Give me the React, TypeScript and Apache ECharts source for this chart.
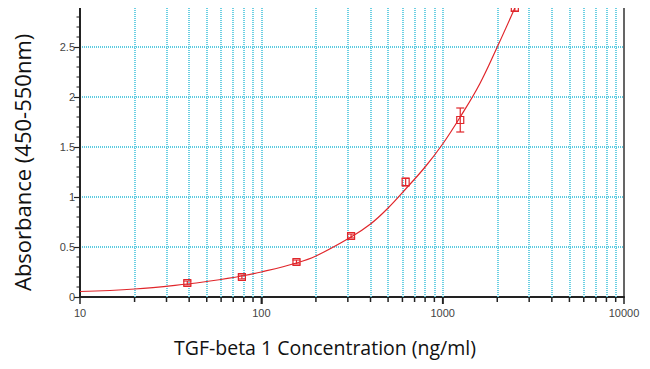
import React, { useEffect, useRef } from "react";
import * as echarts from "echarts";

const concentrations = [39.06, 78.13, 156.25, 312.5, 625, 1250, 2500];
const absorbance = [0.14, 0.2, 0.35, 0.61, 1.15, 1.77, 2.89];
const errors = [0.02, 0.02, 0.02, 0.02, 0.04, 0.12, 0.03];

const curveX = [10, 20, 39.06, 50, 78.13, 100, 156.25, 200, 312.5, 400, 500, 625, 800, 1000, 1250, 1600, 2000, 2500];
const curveY = [0.055, 0.08, 0.13, 0.155, 0.21, 0.25, 0.34, 0.41, 0.6, 0.73, 0.89, 1.08, 1.3, 1.53, 1.8, 2.13, 2.5, 2.89];

const xLabels = ["10", "100", "1000", "10000"];
const xGridValues = [20, 30, 40, 50, 60, 70, 80, 90, 100, 200, 300, 400, 500, 600, 700, 800, 900, 1000, 2000, 3000, 4000, 5000, 6000, 7000, 8000, 9000];
const yMinorTicks = [0.1, 0.2, 0.3, 0.4, 0.6, 0.7, 0.8, 0.9, 1.1, 1.2, 1.3, 1.4, 1.6, 1.7, 1.8, 1.9, 2.1, 2.2, 2.3, 2.4, 2.6, 2.7, 2.8];

const X_MIN = 10;
const X_MAX = 10000;
const Y_MIN = 0;
const Y_MAX = 2.9;
const GRID_COLOR = "#5ccbe0";
const RED = "#e0262b";

export default function App() {
  const ref = useRef<HTMLDivElement>(null);
  useEffect(() => {
    if (!ref.current) return;
    const chart = echarts.init(ref.current, null, { renderer: "svg" });
    chart.setOption({
      animation: false,
      grid: {
        left: 80,
        right: 26,
        top: 7,
        bottom: 72,
        show: true,
        borderColor: "#333",
        borderWidth: 1.5,
      },
      xAxis: {
        type: "log",
        logBase: 10,
        min: X_MIN,
        max: X_MAX,
        axisLine: { lineStyle: { color: "#222", width: 2 } },
        axisTick: { show: true, length: 7, lineStyle: { color: "#222", width: 1.5 } },
        axisLabel: {
          color: "#444",
          fontSize: 11,
          fontFamily: "Liberation Sans",
          margin: 10,
          formatter: (v: number) => xLabels.find((l) => Math.abs(Number(l) - v) < 1e-6) ?? "",
        },
        splitLine: { show: false },
        minorTick: { show: false },
      },
      yAxis: {
        type: "value",
        min: Y_MIN,
        max: Y_MAX,
        interval: 0.5,
        axisLine: { show: true, lineStyle: { color: "#222", width: 2 } },
        axisTick: { show: true, length: 6, lineStyle: { color: "#222", width: 1.2 } },
        axisLabel: {
          color: "#444",
          fontSize: 11,
          fontFamily: "Liberation Sans",
          margin: 5,
          showMaxLabel: false,
          formatter: (v: number) => (Math.abs(v - 2.9) < 1e-6 ? "" : String(v)),
        },
        splitLine: { show: true, lineStyle: { color: GRID_COLOR, type: [1, 1], width: 1.8 } },
      },
      graphic: [
        {
          type: "text",
          left: 174,
          top: 337,
          style: {
            text: "TGF-beta 1 Concentration (ng/ml)",
            fontSize: 19.5,
            fontFamily: "Open Sans",
            fill: "#111",
          },
        },
        {
          type: "text",
          x: 11,
          y: 291,
          rotation: Math.PI / 2,
          style: {
            text: "Absorbance (450-550nm)",
            fontSize: 22,
            fontFamily: "Open Sans",
            fill: "#111",
          },
        },
      ],
      series: [
        {
          type: "custom",
          z: 1,
          silent: true,
          clip: false,
          data: xGridValues.map((v) => [v]),
          renderItem: (params: any, api: any) => {
            const v = api.value(0);
            const bot = api.coord([v, Y_MIN]);
            const major = v === 100 || v === 1000;
            return {
              type: "line",
              shape: { x1: bot[0], y1: bot[1], x2: bot[0], y2: bot[1] + (major ? 7 : 5) },
              style: { stroke: "#222", lineWidth: 1.5 },
            };
          },
        },
        {
          type: "custom",
          z: 1,
          silent: true,
          clip: false,
          data: yMinorTicks.map((v) => [X_MIN, v]),
          renderItem: (params: any, api: any) => {
            const p = api.coord([api.value(0), api.value(1)]);
            return {
              type: "line",
              shape: { x1: p[0] - 3.5, y1: p[1], x2: p[0], y2: p[1] },
              style: { stroke: "#222", lineWidth: 1 },
            };
          },
        },
        {
          type: "line",
          z: 3,
          smooth: 0.4,
          showSymbol: false,
          silent: true,
          data: curveX.map((x, i) => [x, curveY[i]]),
          lineStyle: { color: RED, width: 1.2 },
          markLine: {
            silent: true,
            symbol: "none",
            z: 1,
            label: { show: false },
            lineStyle: { color: GRID_COLOR, type: [1, 1], width: 1.8, opacity: 1 },
            emphasis: { disabled: true },
            data: xGridValues.map((v) => ({ xAxis: v })),
          },
        },
        {
          type: "custom",
          z: 4,
          silent: true,
          clip: false,
          data: concentrations.map((x, i) => [x, absorbance[i], errors[i]]),
          renderItem: (params: any, api: any) => {
            const x = api.value(0);
            const y = api.value(1);
            const e = api.value(2);
            const c = api.coord([x, y]);
            const hi = api.coord([x, y + e]);
            const lo = api.coord([x, y - e]);
            const cap = 4;
            const s = 3.5;
            return {
              type: "group",
              children: [
                {
                  type: "line",
                  shape: { x1: c[0], y1: hi[1], x2: c[0], y2: lo[1] },
                  style: { stroke: RED, lineWidth: 1.2 },
                },
                {
                  type: "line",
                  shape: { x1: c[0] - cap, y1: hi[1], x2: c[0] + cap, y2: hi[1] },
                  style: { stroke: RED, lineWidth: 1.2 },
                },
                {
                  type: "line",
                  shape: { x1: c[0] - cap, y1: lo[1], x2: c[0] + cap, y2: lo[1] },
                  style: { stroke: RED, lineWidth: 1.2 },
                },
                {
                  type: "rect",
                  shape: { x: c[0] - s, y: c[1] - s, width: 2 * s, height: 2 * s },
                  style: { fill: "none", stroke: RED, lineWidth: 1.2 },
                },
              ],
            };
          },
        },
      ],
    });
    return () => chart.dispose();
  }, []);
  return <div ref={ref} style={{ width: 650, height: 369, margin: -8 }} />;
}
